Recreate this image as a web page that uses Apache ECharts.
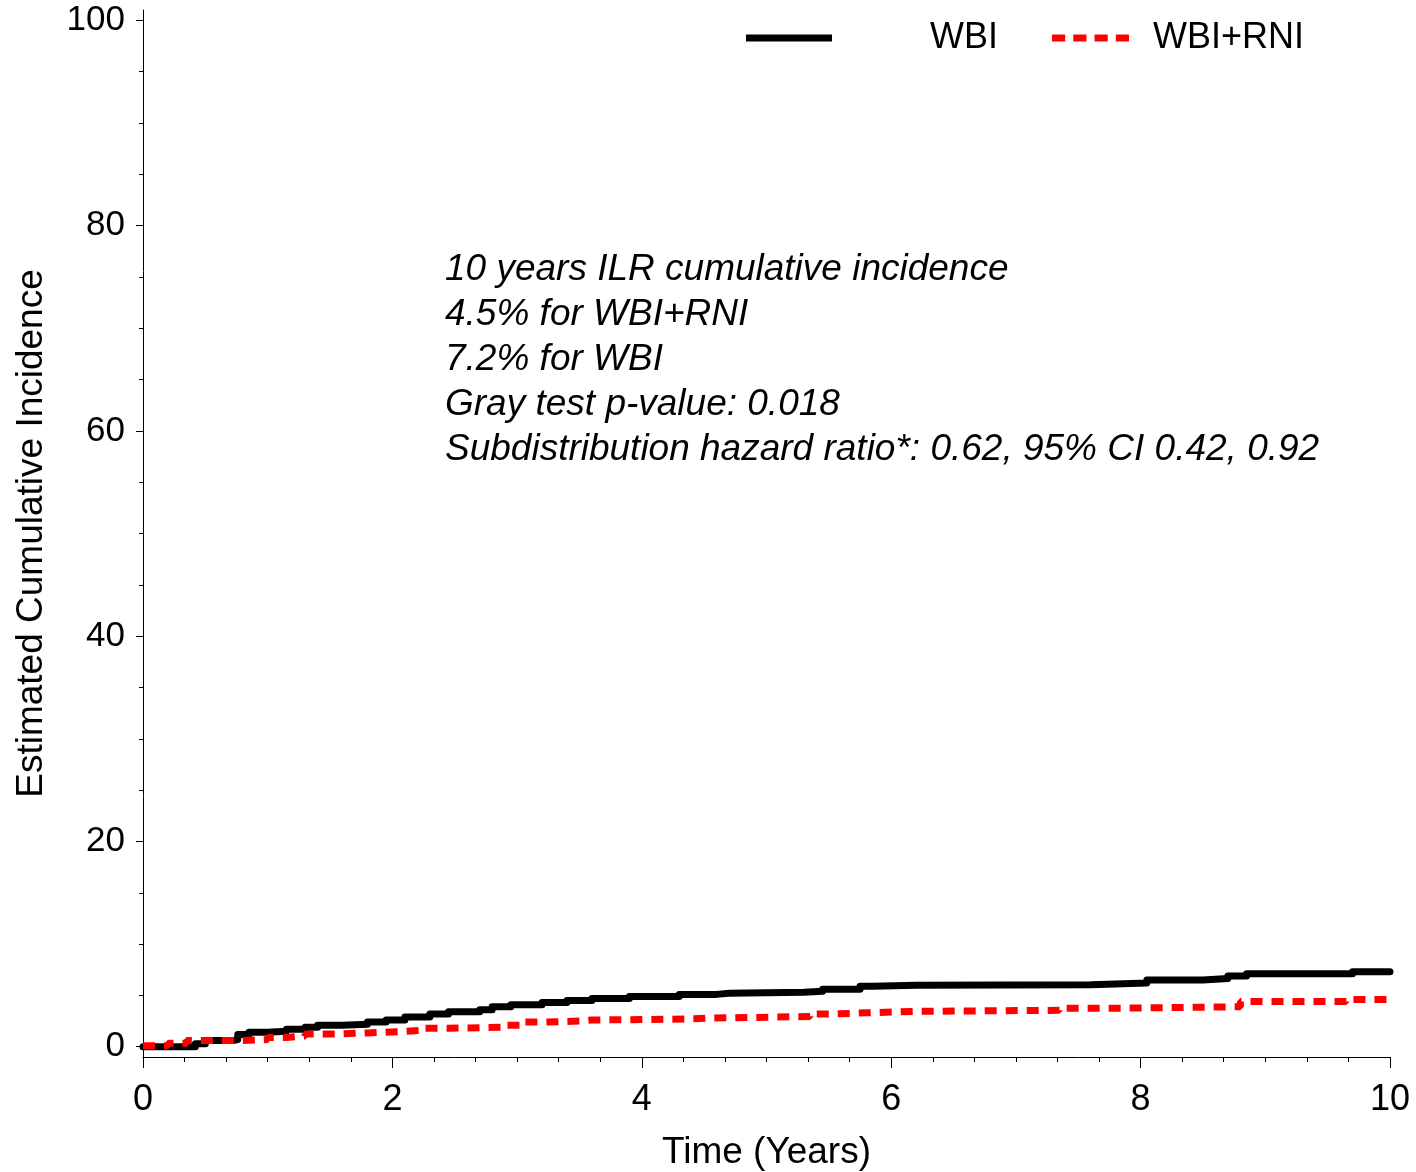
<!DOCTYPE html>
<html>
<head>
<meta charset="utf-8">
<script src="https://cdn.jsdelivr.net/npm/echarts@6/dist/echarts.min.js"></script>
<style>
  html, body { margin: 0; padding: 0; background: #fff; }
  #chart { width: 1416px; height: 1172px; }
</style>
</head>
<body>
<div id="chart"></div>
<script>
// 数据：年份 / 累计发生率(%)
var wbiData = [
  [0, 0], [0.42, 0.3], [0.5, 0.6], [0.72, 0.7], [0.76, 1.2], [0.85, 1.4],
  [1.0, 1.5], [1.15, 1.7], [1.3, 1.9], [1.4, 2.1], [1.6, 2.2], [1.8, 2.4],
  [1.95, 2.6], [2.1, 2.9], [2.3, 3.2], [2.45, 3.4], [2.7, 3.6], [2.8, 3.9],
  [2.95, 4.1], [3.2, 4.3], [3.4, 4.5], [3.6, 4.7], [3.9, 4.9], [4.3, 5.1],
  [4.6, 5.2], [4.7, 5.3], [5.3, 5.4], [5.45, 5.6], [5.75, 5.9], [5.85, 6.0],
  [6.2, 6.05], [7.6, 6.2], [8.05, 6.5], [8.5, 6.65], [8.7, 6.9], [8.85, 7.1],
  [9.7, 7.3], [10, 7.3]
]
var wbiRniData = [
  [0, 0.1], [0.2, 0.35], [0.35, 0.6], [0.8, 0.7], [1.0, 0.9], [1.15, 1.05],
  [1.3, 1.25], [1.6, 1.35], [1.8, 1.5], [2.1, 1.6], [2.25, 1.8], [2.45, 1.9],
  [2.9, 2.1], [3.05, 2.4], [3.2, 2.5], [3.5, 2.6], [3.6, 2.7], [4.35, 2.8],
  [4.55, 2.85], [4.9, 2.95], [5.35, 3.2], [5.55, 3.3], [5.8, 3.45], [6.2, 3.55],
  [7.35, 3.75], [7.8, 3.9], [8.8, 4.4], [9.65, 4.6], [10, 4.6]
]
var yMajorTicks = [0, 20, 40, 60, 80, 100]
var yMinorTicks = [5, 10, 15, 25, 30, 35, 45, 50, 55, 65, 70, 75, 85, 90, 95]
var noteLines = [
  '10 years ILR cumulative incidence',
  '4.5% for WBI+RNI',
  '7.2% for WBI',
  'Gray test p-value: 0.018',
  'Subdistribution hazard ratio*: 0.62, 95% CI 0.42, 0.92'
]

var font = 'Liberation Sans'
var myChart = echarts.init(document.getElementById('chart'))

var option = {
  backgroundColor: '#fff',
  animation: false,
  grid: {
    left: 143,
    right: 26,
    top: 10,
    bottom: 115,
    containLabel: false,
    outerBoundsMode: 'none',
  },
  legend: [
    {
      data: ['WBI'],
      left: 741,
      top: 13,
      icon: 'rect',
      itemWidth: 86,
      itemHeight: 7,
      symbolKeepAspect: false,
      textStyle: {
        fontFamily: font,
        fontSize: 36,
        color: '#000',
        lineHeight: 40,
        padding: [0, 0, 0, 93],
      },
    },
    {
      data: ['WBI+RNI'],
      left: 1047,
      top: 13,
      icon: 'path://M0,0h13v7h-13z M21,0h13v7h-13z M42,0h13v7h-13z M63,0h13v7h-13z',
      itemWidth: 77,
      itemHeight: 7,
      symbolKeepAspect: false,
      textStyle: {
        fontFamily: font,
        fontSize: 36,
        color: '#000',
        lineHeight: 40,
        padding: [0, 0, 0, 19],
      },
    },
  ],
  xAxis: {
    type: 'value',
    min: 0,
    max: 10,
    interval: 2,
    name: 'Time (Years)',
    nameLocation: 'middle',
    nameGap: 77,
    nameTextStyle: { fontFamily: font, fontSize: 37, color: '#000' },
    axisLine: { onZero: false, lineStyle: { color: '#000', width: 1 } },
    axisTick: { length: 11, lineStyle: { color: '#000' } },
    minorTick: { show: true, splitNumber: 6, length: 5, lineStyle: { color: '#000' } },
    axisLabel: { fontFamily: font, fontSize: 36, color: '#000', margin: 25 },
    splitLine: { show: false },
  },
  yAxis: [
    {
      type: 'value',
      min: -1,
      max: 101,
      name: 'Estimated Cumulative Incidence',
      nameLocation: 'middle',
      nameGap: 93,
      nameTextStyle: { fontFamily: font, fontSize: 37, color: '#000' },
      axisLine: { show: true, onZero: false, lineStyle: { color: '#000', width: 1 } },
      axisTick: { show: true, length: 7, customValues: yMajorTicks, lineStyle: { color: '#000' } },
      axisLabel: {
        customValues: yMajorTicks,
        fontFamily: font,
        fontSize: 35,
        color: '#000',
        margin: 18,
        padding: [5, 0, 0, 0],
      },
      splitLine: { show: false },
    },
    {
      type: 'value',
      min: -1,
      max: 101,
      position: 'left',
      axisLine: { show: false },
      axisTick: { show: true, length: 4, customValues: yMinorTicks, lineStyle: { color: '#000' } },
      axisLabel: { show: false },
      splitLine: { show: false },
    },
  ],
  series: [
    {
      name: 'WBI',
      type: 'line',
      step: 'end',
      symbol: 'none',
      yAxisIndex: 0,
      lineStyle: { color: '#000', width: 7, cap: 'round', join: 'round' },
      itemStyle: { color: '#000' },
      data: wbiData,
    },
    {
      name: 'WBI+RNI',
      type: 'line',
      step: 'end',
      symbol: 'none',
      yAxisIndex: 0,
      lineStyle: { color: '#ff0000', width: 7, type: [12, 9], cap: 'butt' },
      itemStyle: { color: '#ff0000' },
      data: wbiRniData,
    },
  ],
  graphic: [
    {
      type: 'text',
      left: 445,
      top: 247,
      style: {
        text: noteLines.join('\n'),
        font: 'italic 37px "Liberation Sans"',
        lineHeight: 45,
        fill: '#000',
      },
    },
  ],
}
myChart.setOption(option)
window.onresize = myChart.resize
</script>
</body>
</html>
